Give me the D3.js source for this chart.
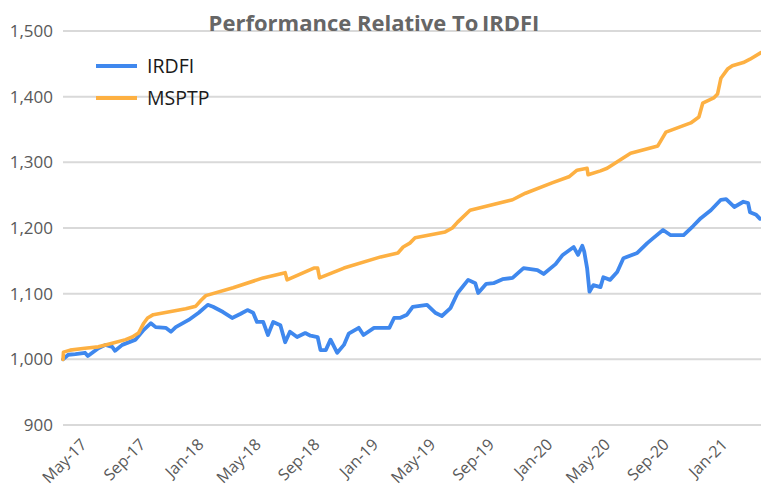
<!DOCTYPE html>
<html>
<head>
<meta charset="utf-8">
<script src="https://cdn.jsdelivr.net/npm/d3@7/dist/d3.min.js"></script>
<style>
  html, body { margin: 0; padding: 0; background: #fff; }
  svg { display: block; }
</style>
</head>
<body>
<svg id="chart" width="761" height="491"></svg>
<script>
// ---- Data ----
const titleText = "Performance Relative To\u2009IRDFI";
const seriesNames = ["IRDFI", "MSPTP"];
const yTicks = [900, 1000, 1100, 1200, 1300, 1400, 1500];

const irdfiDates = ["2017-03-26","2017-04-06","2017-04-21","2017-05-11","2017-05-17","2017-06-08","2017-06-23","2017-07-07","2017-07-13","2017-07-28","2017-08-25","2017-09-11","2017-09-26","2017-10-06","2017-10-27","2017-11-07","2017-11-17","2017-12-14","2018-01-04","2018-01-23","2018-02-03","2018-02-24","2018-03-15","2018-04-01","2018-04-16","2018-04-28","2018-05-06","2018-05-19","2018-05-29","2018-06-09","2018-06-24","2018-07-04","2018-07-14","2018-07-29","2018-08-15","2018-08-26","2018-09-10","2018-09-16","2018-09-27","2018-10-07","2018-10-21","2018-11-04","2018-11-14","2018-12-05","2018-12-15","2019-01-06","2019-01-20","2019-02-07","2019-02-17","2019-03-01","2019-03-16","2019-03-28","2019-04-27","2019-05-14","2019-05-28","2019-06-15","2019-06-30","2019-07-22","2019-08-06","2019-08-12","2019-08-29","2019-09-13","2019-10-02","2019-10-23","2019-11-15","2019-12-14","2019-12-27","2020-01-21","2020-02-05","2020-02-28","2020-03-08","2020-03-17","2020-03-21","2020-03-27","2020-04-01","2020-04-09","2020-04-24","2020-04-30","2020-05-14","2020-05-29","2020-06-11","2020-07-10","2020-07-31","2020-08-13","2020-09-02","2020-09-18","2020-10-15","2020-11-04","2020-11-20","2020-12-11","2021-01-01","2021-01-12","2021-01-29","2021-02-17","2021-02-27","2021-03-03","2021-03-16","2021-03-24"];
const irdfiValues = [1000,1007,1008,1010,1005,1017,1022,1019,1013,1022,1030,1045,1055,1049,1048,1042,1049,1060,1071,1083,1080,1072,1063,1069,1075,1071,1057,1057,1037,1057,1052,1026,1042,1034,1040,1036,1034,1014,1014,1030,1010,1022,1039,1048,1037,1048,1048,1048,1063,1063,1068,1080,1083,1071,1066,1078,1101,1121,1116,1101,1115,1116,1122,1124,1139,1136,1130,1145,1159,1171,1159,1173,1164,1139,1103,1113,1110,1125,1121,1133,1154,1162,1177,1185,1197,1189,1189,1203,1215,1227,1243,1244,1232,1240,1238,1224,1220,1214];

const msptpDates = ["2017-03-26","2017-03-27","2017-04-10","2017-05-11","2017-06-08","2017-07-09","2017-08-04","2017-08-18","2017-08-31","2017-09-11","2017-09-19","2017-10-01","2017-12-08","2017-12-29","2018-01-09","2018-01-19","2018-03-17","2018-05-19","2018-07-04","2018-07-08","2018-09-02","2018-09-10","2018-09-14","2018-11-04","2019-01-20","2019-02-25","2019-03-08","2019-03-22","2019-04-02","2019-06-04","2019-06-19","2019-06-30","2019-07-26","2019-10-23","2019-11-19","2020-01-15","2020-02-18","2020-03-06","2020-03-27","2020-03-29","2020-04-24","2020-05-08","2020-06-26","2020-08-22","2020-09-08","2020-10-30","2020-11-16","2020-11-24","2020-12-17","2020-12-25","2021-01-01","2021-01-15","2021-01-25","2021-02-17","2021-03-03","2021-03-26"];
const msptpValues = [1000,1011,1014,1017,1019,1025,1030,1034,1040,1055,1063,1068,1077,1081,1090,1097,1109,1124,1132,1121,1139,1139,1124,1139,1156,1162,1171,1177,1185,1194,1200,1209,1227,1243,1253,1269,1278,1288,1291,1281,1287,1291,1314,1325,1346,1360,1369,1390,1398,1404,1428,1442,1447,1452,1457,1467];

const xStart = "2017-03-26", xEnd = "2021-03-26";

// ---- Chart ----
const W = 761, H = 491;
const margin = { left: 63, right: 0, top: 31, bottom: 66 };
const parse = d3.timeParse("%Y-%m-%d");
const svg = d3.select("#chart");

const x = d3.scaleTime().domain([parse(xStart), parse(xEnd)]).range([margin.left, W - margin.right]);
const y = d3.scaleLinear().domain([900, 1500]).range([425, 31]);

const colors = { IRDFI: "#3f88ee", MSPTP: "#fdb042" };

// gridlines
svg.append("g").selectAll("line").data(yTicks).join("line")
  .attr("x1", margin.left).attr("x2", W)
  .attr("y1", d => y(d)).attr("y2", d => y(d))
  .attr("stroke", "#d9d9d9").attr("stroke-width", 2);

// y labels
const fmt = d3.format(",");
svg.append("g").selectAll("text").data(yTicks).join("text")
  .attr("x", 53).attr("y", d => y(d)).attr("dy", "0.35em")
  .attr("text-anchor", "end")
  .attr("font-family", "'Open Sans', sans-serif").attr("font-size", 17)
  .attr("fill", "#595959")
  .text(d => fmt(d));

// x labels
const xTicks = d3.timeMonth.range(parse("2017-05-01"), parse("2021-03-01"), 4);
const xfmt = d3.timeFormat("%b-%y");
svg.append("g").selectAll("text").data(xTicks).join("text")
  .attr("text-anchor", "end")
  .attr("transform", d => `translate(${x(d) - 1},${437}) rotate(-45)`)
  .attr("dy", "0.75em")
  .attr("font-family", "'Open Sans', sans-serif").attr("font-size", 16)
  .attr("fill", "#595959")
  .text(d => xfmt(d));

// lines
const line = d3.line().x(d => x(d[0])).y(d => y(d[1])).curve(d3.curveLinear);
const irdfi = irdfiDates.map((d, i) => [parse(d), irdfiValues[i]]);
const msptp = msptpDates.map((d, i) => [parse(d), msptpValues[i]]);

svg.append("path").datum(irdfi).attr("d", line)
  .attr("fill", "none").attr("stroke", colors.IRDFI).attr("stroke-width", 3.8)
  .attr("stroke-linejoin", "round").attr("stroke-linecap", "round");
svg.append("path").datum(msptp).attr("d", line)
  .attr("fill", "none").attr("stroke", colors.MSPTP).attr("stroke-width", 3.6)
  .attr("stroke-linejoin", "round").attr("stroke-linecap", "round");

// title
svg.append("text").attr("x", 374).attr("y", 31)
  .attr("text-anchor", "middle")
  .attr("font-family", "'Open Sans', sans-serif").attr("font-weight", "bold")
  .attr("font-size", 22).attr("fill", "#666666")
  .text(titleText);

// legend
const leg = svg.append("g").selectAll("g").data(seriesNames).join("g")
  .attr("transform", (d, i) => `translate(96,${66 + i * 32})`);
leg.append("line").attr("x1", 0).attr("x2", 41).attr("y1", 0).attr("y2", 0)
  .attr("stroke", d => colors[d]).attr("stroke-width", 4);
leg.append("text").attr("x", 51).attr("y", 0).attr("dy", "0.35em")
  .attr("font-family", "'Open Sans', sans-serif").attr("font-size", 19.5)
  .attr("fill", "#1a1a1a")
  .text(d => d);
</script>
</body>
</html>
